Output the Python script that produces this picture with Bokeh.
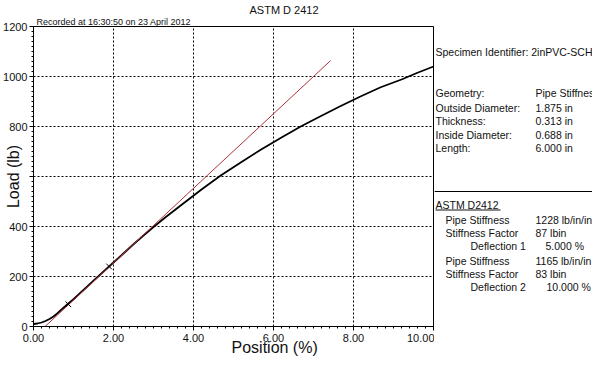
from bokeh.plotting import figure
from bokeh.models import (SingleIntervalTicker, PrintfTickFormatter, Range1d,
                          ColumnDataSource, Span, Title)
from bokeh.layouts import row
from bokeh.embed import file_html
from bokeh.resources import INLINE
from bokeh.core.properties import value

# ---------------- data ----------------
position = [0.0, 0.1, 0.2, 0.3, 0.4, 0.5, 0.6, 0.7, 0.85, 1.0, 1.25, 1.5, 1.89, 2.2, 2.5,
            2.75, 3.0, 3.3, 3.68, 4.2, 4.68, 5.2, 5.68, 6.2, 6.68, 7.2, 7.68, 8.2, 8.68,
            9.2, 9.6, 10.0]
load = [10, 12, 16, 22, 30, 40, 53, 68, 89, 109, 146, 183, 240, 285, 329,
        364, 398, 437, 484, 548, 604, 658, 707, 756, 800, 843, 882, 922, 957,
        988, 1015, 1040]
fit_position = [0.29, 7.43]
fit_load = [0, 1064]
marker_position = [0.87, 1.89]
marker_load = [89, 240]
hidden_y_labels = {600: ""}

title_text = "ASTM D 2412"
recorded_text = "Recorded at 16:30:50 on 23 April 2012"
x_label = "Position (%)"
y_label = "Load (lb)"

specimen_text = "Specimen Identifier: 2inPVC-SCH"
geom_names = ["Geometry:", "Outside Diameter:", "Thickness:", "Inside Diameter:", "Length:"]
geom_values = ["Pipe Stiffness", "1.875 in", "0.313 in", "0.688 in", "6.000 in"]
result_head = "ASTM D2412"
result_names = ["Pipe Stiffness", "Stiffness Factor", "Deflection 1",
                "Pipe Stiffness", "Stiffness Factor", "Deflection 2"]
result_values = ["1228 lb/in/in", "87 lbin", "5.000 %",
                 "1165 lb/in/in", "83 lbin", "10.000 %"]

FONT = "Liberation Sans"
TXT = "#111111"

# ---------------- main chart ----------------
W_MAIN, H = 434, 357
L, R, T, B = 33, 433, 26, 326

p = figure(width=W_MAIN, height=H, x_range=Range1d(0, 10), y_range=Range1d(0, 1200),
           output_backend="svg", toolbar_location=None,
           min_border_left=L, min_border_right=W_MAIN - R,
           min_border_top=T, min_border_bottom=H - B)
p.background_fill_color = "white"
p.border_fill_color = "white"
p.outline_line_color = "black"
p.outline_line_width = 1
p.outline_line_alpha = 1

xt = SingleIntervalTicker(interval=2, num_minor_ticks=10)
yt = SingleIntervalTicker(interval=200, num_minor_ticks=10)
p.xaxis.ticker = xt
p.yaxis.ticker = yt
p.xgrid.ticker = xt
p.ygrid.ticker = yt
p.xaxis.formatter = PrintfTickFormatter(format="%.2f")
p.yaxis.major_label_overrides = hidden_y_labels

for ax in p.axis:
    ax.axis_line_color = "black"
    ax.major_tick_line_color = "black"
    ax.minor_tick_line_color = "black"
    ax.major_tick_in = 0
    ax.major_tick_out = 4
    ax.minor_tick_in = 0
    ax.minor_tick_out = 2
    ax.major_label_text_font = FONT
    ax.major_label_text_font_size = "11px"
    ax.major_label_text_color = TXT
p.xaxis.major_label_standoff = 3
p.yaxis.major_label_standoff = 2

p.yaxis.axis_label = y_label
p.yaxis.axis_label_text_font = FONT
p.yaxis.axis_label_text_font_size = "16px"
p.yaxis.axis_label_text_font_style = "normal"
p.yaxis.axis_label_text_color = TXT
p.yaxis.axis_label_standoff = -22

p.grid.grid_line_color = "black"
p.grid.grid_line_dash = "2 2"
p.grid.grid_line_width = 1
p.grid.grid_line_alpha = 1

src = ColumnDataSource(dict(x=position, y=load))
p.line("x", "y", source=src, line_color="black", line_width=1.8)
p.line(fit_position, fit_load, line_color="#b0303a", line_width=1)
p.scatter(marker_position, marker_load, marker="x", size=8, line_color="black", line_width=1)


def title(text, size, offset, standoff, side):
    p.add_layout(Title(text=text, align="left", offset=offset, vertical_align="middle",
                       standoff=standoff, text_font=FONT, text_font_size=size,
                       text_font_style="normal", text_color=TXT), side)


title(recorded_text, "9px", 3, -2, "above")
title(title_text, "11px", 216, -1, "above")
title(x_label, "16px", 198, -13, "below")

# ---------------- side panel (frame aligned with the main frame) ----------------
W_SIDE = 592 - W_MAIN
s = figure(width=W_SIDE, height=H, x_range=Range1d(0, W_SIDE), y_range=Range1d(B, T),
           output_backend="svg", toolbar_location=None, min_border=0,
           x_axis_type=None, y_axis_type=None)
s.grid.visible = False
s.outline_line_color = None
s.background_fill_color = "white"
s.border_fill_color = "white"

SIDE_FS = "10.5px"


def stext(txt, x, y):
    s.text(x=[x], y=[y], text=[txt], text_font=value(FONT), text_font_size=SIDE_FS,
           text_color=TXT, text_align="left", text_baseline="middle")


stext(specimen_text, 1, 51.7)
geom_y = [92.7, 107.7, 120.7, 134, 147.3]
for n, v, yy in zip(geom_names, geom_values, geom_y):
    stext(n, 1, yy)
    stext(v, 101, yy)

s.add_layout(Span(location=191, dimension="width", line_color="black", line_width=1))
stext(result_head, 1, 204.3)
s.segment(x0=[1], y0=[209.5], x1=[66], y1=[209.5], line_color=TXT, line_width=1)

res_y = [219, 232.3, 245.7, 260, 273, 286.7]
name_x = [11, 11, 36, 11, 11, 36]
val_x = [101, 101, 111, 101, 101, 112]
for n, v, yy, nx, vx in zip(result_names, result_values, res_y, name_x, val_x):
    stext(n, nx, yy)
    stext(v, vx, yy)

layout = row(p, s)
open("out.html", "w").write(file_html(layout, INLINE))
